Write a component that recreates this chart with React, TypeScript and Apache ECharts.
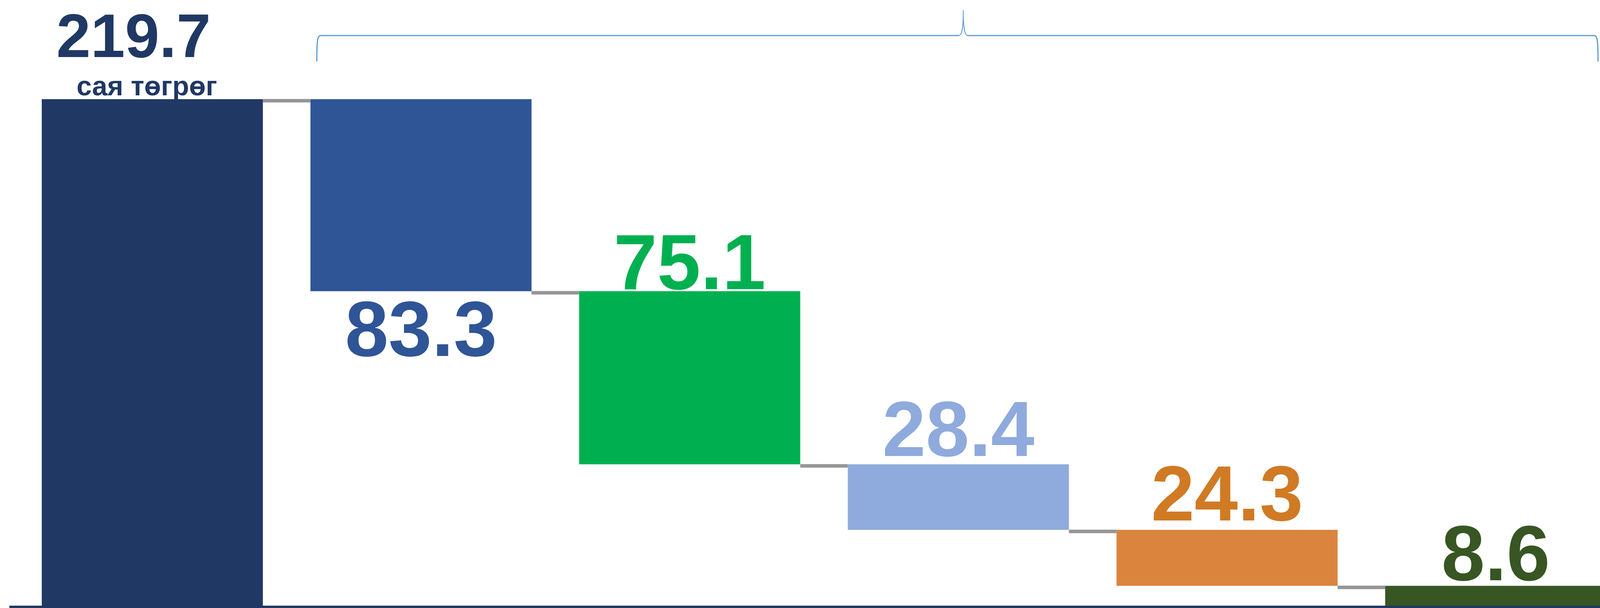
import React, { useEffect, useRef } from "react";
import * as echarts from "echarts";

// ---- data ----
const categories = ["Нийт", "Бүлэг 1", "Бүлэг 2", "Бүлэг 3", "Бүлэг 4", "Бүлэг 5"];
const values = [219.7, 83.3, 75.1, 28.4, 24.3, 8.6];
const unitLabel = "сая төгрөг";

// ---- styles ----
const barColors = ["#203864", "#2F5597", "#00B050", "#8FAADC", "#DB843E", "#375623"];
const labelColors = ["#203864", "#2F5597", "#00B050", "#8FAADC", "#D07A24", "#375623"];
const labelPositions = ["top", "bottom", "top", "top", "top", "top"];
const labelDistances = [-5, 21, 0, 16, 18, 9];
const FONT = "'Liberation Sans', Arial, 'DejaVu Sans', sans-serif";
const BAR_W = 566;

export default function App() {
  const ref = useRef<HTMLDivElement>(null);

  useEffect(() => {
    if (!ref.current) return;
    const chart = echarts.init(ref.current, undefined, { renderer: "svg" });

    const total = values[0];
    const bases: number[] = [];
    let running = total;
    values.forEach((v, i) => {
      if (i === 0) {
        bases.push(0);
      } else {
        running = Math.round((running - v) * 10) / 10;
        bases.push(running);
      }
    });
    // connector levels: from bar i to bar i+1, at the top of bar i+1
    const connectors = values.slice(1).map((v, i) => [i, Math.round((bases[i + 1] + v) * 10) / 10]);

    const valueData = values.map((v, i) => {
      const base: any = {
        show: true,
        position: labelPositions[i],
        distance: labelDistances[i],
        color: labelColors[i],
        fontFamily: FONT,
        fontWeight: "bold",
        fontSize: 200,
        lineHeight: 150,
      };
      if (i === 0) {
        base.formatter = "{a|" + v.toFixed(1) + "}\n{b|" + unitLabel + "}";
        base.offset = [-14, 0];
        base.rich = {
          a: {
            fontSize: 158,
            lineHeight: 180,
            fontWeight: "bold",
            fontFamily: FONT,
            color: labelColors[i],
            padding: [0, 68, 0, 0],
          },
          b: {
            fontSize: 70,
            lineHeight: 78,
            fontWeight: "bold",
            fontFamily: FONT,
            color: labelColors[i],
          },
        };
      } else {
        base.formatter = v.toFixed(1);
      }
      return { value: v, itemStyle: { color: barColors[i] }, label: base };
    });

    const BRACE = "#5B9BD5";
    const braceStyle = { stroke: BRACE, lineWidth: 3, fill: "none" };

    chart.setOption({
      animation: false,
      grid: { left: 46, right: 3, top: 75, bottom: 6, containLabel: false },
      xAxis: {
        type: "category",
        data: categories,
        axisLine: { show: false },
        axisTick: { show: false },
        axisLabel: { show: false },
        splitLine: { show: false },
      },
      yAxis: {
        type: "value",
        min: 0,
        max: 250,
        show: false,
        splitLine: { show: false },
      },
      series: [
        {
          type: "bar",
          stack: "w",
          barWidth: BAR_W,
          silent: true,
          itemStyle: { color: "rgba(0,0,0,0)" },
          data: bases,
        },
        {
          type: "bar",
          stack: "w",
          barWidth: BAR_W,
          data: valueData,
        },
        {
          type: "custom",
          z: 1,
          silent: true,
          data: connectors,
          renderItem: (params: any, api: any) => {
            const idx = api.value(0);
            const level = api.value(1);
            const p0 = api.coord([idx, level]);
            const p1 = api.coord([idx + 1, level]);
            const y = p0[1] + 4;
            return {
              type: "line",
              shape: { x1: p0[0] + BAR_W / 2, y1: y, x2: p1[0] - BAR_W / 2, y2: y },
              style: { stroke: "#969696", lineWidth: 9 },
            };
          },
        },
      ],
      graphic: [
        {
          type: "bezierCurve",
          shape: { x1: 811, y1: 157, cpx1: 811, cpy1: 100, cpx2: 813, cpy2: 91, x2: 822, y2: 91 },
          style: braceStyle,
        },
        { type: "line", shape: { x1: 822, y1: 91, x2: 2455, y2: 91 }, style: braceStyle },
        {
          type: "bezierCurve",
          shape: { x1: 2455, y1: 91, cpx1: 2463, cpy1: 90, cpx2: 2466, cpy2: 70, x2: 2466, y2: 26 },
          style: { ...braceStyle, lineWidth: 2 },
        },
        {
          type: "bezierCurve",
          shape: { x1: 2466, y1: 26, cpx1: 2466, cpy1: 70, cpx2: 2469, cpy2: 90, x2: 2477, y2: 91 },
          style: { ...braceStyle, lineWidth: 2 },
        },
        { type: "line", shape: { x1: 2477, y1: 91, x2: 4080, y2: 91 }, style: braceStyle },
        {
          type: "bezierCurve",
          shape: { x1: 4080, y1: 91, cpx1: 4089, cpy1: 91, cpx2: 4091, cpy2: 100, x2: 4091, y2: 157 },
          style: braceStyle,
        },
        {
          type: "rect",
          z: 100,
          shape: { x: 24, y: 1550, width: 4152, height: 6 },
          style: { fill: "#203864" },
        },
      ],
    });

    return () => chart.dispose();
  }, []);

  return (
    <div
      ref={ref}
      style={{ position: "absolute", left: 0, top: 0, width: "4176px", height: "1556px" }}
    />
  );
}
